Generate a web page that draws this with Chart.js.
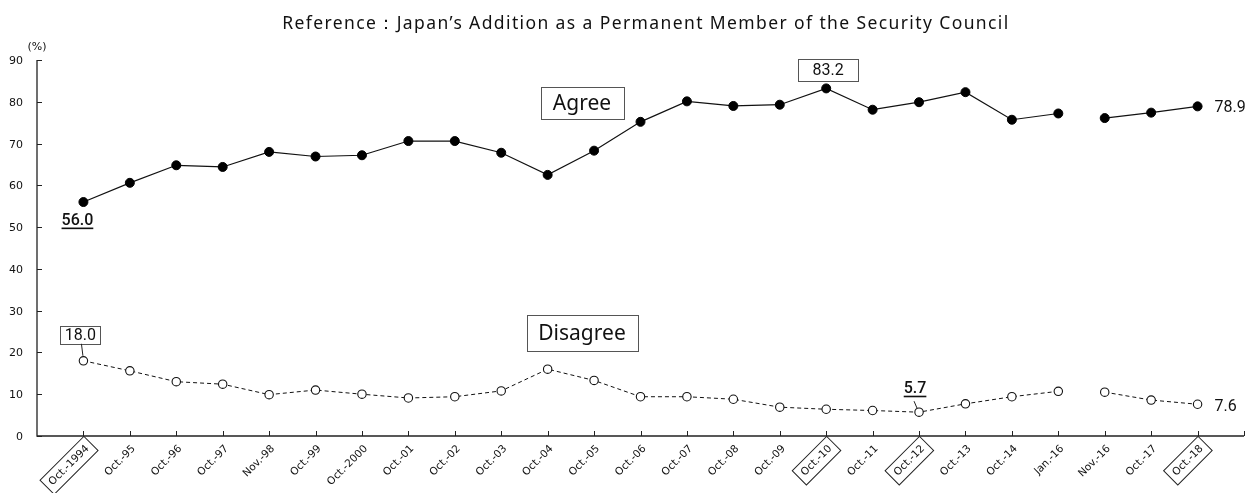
<!DOCTYPE html>
<html>
<head>
<meta charset="utf-8">
<script src="https://cdn.jsdelivr.net/npm/chart.js"></script>
<style>
  html, body { margin: 0; padding: 0; background: #fff; }
  #wrap { width: 1255px; height: 493px; }
</style>
</head>
<body>
<div id="wrap"><canvas id="chart" width="1255" height="493"></canvas></div>
<script>
// survey periods
const periods = ['Oct.-1994', 'Oct.-95', 'Oct.-96', 'Oct.-97', 'Nov.-98', 'Oct.-99', 'Oct.-2000',
  'Oct.-01', 'Oct.-02', 'Oct.-03', 'Oct.-04', 'Oct.-05', 'Oct.-06', 'Oct.-07', 'Oct.-08',
  'Oct.-09', 'Oct.-10', 'Oct.-11', 'Oct.-12', 'Oct.-13', 'Oct.-14', 'Jan.-16', 'Nov.-16',
  'Oct.-17', 'Oct.-18'];
const agree = [56.0, 60.6, 64.8, 64.4, 68.0, 66.9, 67.2, 70.6, 70.6, 67.8, 62.5, 68.3, 75.2,
  80.1, 79.0, 79.3, 83.2, 78.1, 79.9, 82.3, 75.7, 77.2, 76.1, 77.4, 78.9];
const disagree = [18.0, 15.6, 13.0, 12.4, 9.9, 11.0, 10.0, 9.1, 9.4, 10.8, 16.0, 13.3, 9.4,
  9.4, 8.8, 6.9, 6.4, 6.1, 5.7, 7.7, 9.4, 10.7, 10.5, 8.6, 7.6];
const yTicks = [0, 10, 20, 30, 40, 50, 60, 70, 80, 90];
const boxedPeriods = ['Oct.-1994', 'Oct.-10', 'Oct.-12', 'Oct.-18'];

// one empty slot on each side, like the original axis
const labels = [''].concat(periods, ['']);
const pad = arr => [null].concat(arr, [null]);
const breakAt = periods.indexOf('Jan.-16') + 1; // no line between Jan-16 and Nov-16

const FONT = '"Noto Sans", "Open Sans", sans-serif';
const TICKFONT = '"DejaVu Sans", Verdana, sans-serif';
const NUMFONT = 'Roboto, "Liberation Sans", Arial, sans-serif';

function boxText(ctx, text, cx, cy, w, h) {
  ctx.fillStyle = '#fff';
  ctx.fillRect(cx - w / 2, cy - h / 2, w, h);
  ctx.strokeStyle = '#555';
  ctx.lineWidth = 1;
  ctx.strokeRect(Math.round(cx - w / 2) + 0.5, Math.round(cy - h / 2) + 0.5, w, h);
  ctx.fillStyle = '#111';
  ctx.textAlign = 'center';
  ctx.textBaseline = 'middle';
  ctx.fillText(text, cx, cy + 1);
}

function underlineText(ctx, text, cx, cy) {
  ctx.fillStyle = '#111';
  ctx.textAlign = 'center';
  ctx.textBaseline = 'middle';
  ctx.fillText(text, cx, cy);
  const w = ctx.measureText(text).width;
  ctx.fillRect(cx - w / 2, cy + 6.5, w, 1.6);
}

const decorations = {
  id: 'decorations',
  afterDraw(chart) {
    const ctx = chart.ctx;
    const x = chart.scales.x, y = chart.scales.y;
    const area = chart.chartArea;
    ctx.save();

    // title, spread a little to the width of the original heading
    const title = 'Reference\uFF1AJapan\u2019s Addition as a Permanent Member of the Security Council';
    ctx.fillStyle = '#111';
    ctx.font = '17.5px ' + FONT;
    ctx.textAlign = 'center';
    ctx.textBaseline = 'alphabetic';
    const tw = ctx.measureText(title).width;
    if ('letterSpacing' in ctx && tw < 727) ctx.letterSpacing = ((727 - tw) / title.length).toFixed(2) + 'px';
    ctx.fillText(title, 646, 29);
    if ('letterSpacing' in ctx) ctx.letterSpacing = '0px';

    // axes
    ctx.strokeStyle = '#222';
    ctx.lineWidth = 1.3;
    ctx.beginPath();
    ctx.moveTo(area.left, area.top);
    ctx.lineTo(area.left, area.bottom);
    ctx.lineTo(area.right, area.bottom);
    ctx.stroke();

    // y ticks (inside) and labels
    ctx.lineWidth = 1;
    ctx.font = '11px ' + TICKFONT;
    ctx.textAlign = 'right';
    ctx.textBaseline = 'middle';
    yTicks.forEach(v => {
      const py = Math.round(y.getPixelForValue(v)) + 0.5;
      ctx.beginPath();
      ctx.moveTo(area.left, py);
      ctx.lineTo(area.left + 5, py);
      ctx.stroke();
      ctx.fillText(String(v), area.left - 14, py + 1);
    });
    ctx.font = '11px ' + TICKFONT;
    ctx.textAlign = 'center';
    ctx.fillText('(%)', area.left, area.top - 13);

    // x ticks (inside) and rotated labels
    for (let i = 1; i < labels.length; i++) {
      const px = Math.round(x.getPixelForValue(i)) + 0.5;
      ctx.beginPath();
      ctx.moveTo(px, area.bottom);
      ctx.lineTo(px, area.bottom - 5);
      ctx.stroke();
    }
    ctx.font = '10.5px ' + TICKFONT;
    periods.forEach((p, i) => {
      const px = x.getPixelForValue(i + 1);
      ctx.save();
      ctx.translate(px + 4, area.bottom + 11);
      ctx.rotate(-Math.PI / 4);
      ctx.textAlign = 'right';
      ctx.textBaseline = 'middle';
      ctx.fillStyle = '#111';
      ctx.fillText(p, 0, 0);
      if (boxedPeriods.includes(p)) {
        const w = ctx.measureText(p).width;
        ctx.strokeStyle = '#222';
        ctx.strokeRect(-w - 5, -10, w + 10, 20);
      }
      ctx.restore();
    });

    // series labels
    ctx.font = '21px ' + FONT;
    boxText(ctx, 'Agree', 582, 103, 83, 32);
    boxText(ctx, 'Disagree', 582, 333, 111, 36);

    // value call-outs
    const first = 1, last = periods.length, peak = periods.indexOf('Oct.-10') + 1;
    const low = periods.indexOf('Oct.-12') + 1;
    ctx.font = '500 16px ' + NUMFONT;
    underlineText(ctx, agree[0].toFixed(1), x.getPixelForValue(first) - 6, y.getPixelForValue(agree[0]) + 19);
    underlineText(ctx, disagree[low - 1].toFixed(1), x.getPixelForValue(low) - 4, y.getPixelForValue(disagree[low - 1]) - 23);
    ctx.font = '16px ' + NUMFONT;
    boxText(ctx, disagree[0].toFixed(1), x.getPixelForValue(first) - 3, y.getPixelForValue(disagree[0]) - 26, 40, 18);
    boxText(ctx, agree[peak - 1].toFixed(1), x.getPixelForValue(peak) + 2, y.getPixelForValue(agree[peak - 1]) - 18, 60, 22);

    // leader lines
    ctx.strokeStyle = '#222';
    ctx.lineWidth = 1;
    let px = x.getPixelForValue(first), py = y.getPixelForValue(disagree[0]);
    ctx.beginPath();
    ctx.moveTo(px - 2, py - 17);
    ctx.lineTo(px - 0.5, py - 5);
    ctx.stroke();
    px = x.getPixelForValue(low); py = y.getPixelForValue(disagree[low - 1]);
    ctx.beginPath();
    ctx.moveTo(px - 5, py - 11);
    ctx.lineTo(px - 2, py - 4);
    ctx.stroke();

    ctx.font = '16px ' + NUMFONT;
    ctx.fillStyle = '#111';
    ctx.textAlign = 'left';
    ctx.textBaseline = 'middle';
    ctx.fillText(agree[last - 1].toFixed(1), x.getPixelForValue(last) + 17, y.getPixelForValue(agree[last - 1]) + 1.5);
    ctx.fillText(disagree[last - 1].toFixed(1), x.getPixelForValue(last) + 17, y.getPixelForValue(disagree[last - 1]) + 2.5);

    ctx.restore();
  }
};

const skipBreak = c => (c.p0DataIndex === breakAt ? 'rgba(0,0,0,0)' : undefined);

new Chart(document.getElementById('chart'), {
  type: 'line',
  data: {
    labels: labels,
    datasets: [{
      label: 'Agree',
      data: pad(agree),
      borderColor: '#111',
      borderWidth: 1.2,
      pointRadius: 4.5,
      pointBackgroundColor: '#000',
      pointBorderColor: '#000',
      pointBorderWidth: 1,
      segment: { borderColor: skipBreak },
      clip: false
    }, {
      label: 'Disagree',
      data: pad(disagree),
      borderColor: '#111',
      borderWidth: 1,
      borderDash: [4, 3],
      pointRadius: 4.2,
      pointBackgroundColor: '#fff',
      pointBorderColor: '#111',
      pointBorderWidth: 1.1,
      segment: { borderColor: skipBreak },
      clip: false
    }]
  },
  options: {
    responsive: false,
    animation: false,
    layout: { padding: { top: 60, right: 11, left: 0, bottom: 0 } },
    plugins: { legend: { display: false }, tooltip: { enabled: false }, title: { display: false } },
    scales: {
      x: {
        type: 'category',
        offset: false,
        grid: { display: false },
        border: { display: false },
        ticks: { display: false, autoSkip: false },
        afterFit: s => { s.height = 57; }
      },
      y: {
        min: 0,
        max: 90,
        ticks: { display: false, stepSize: 10 },
        grid: { display: false },
        border: { display: false },
        afterFit: s => { s.width = 37; }
      }
    }
  },
  plugins: [decorations]
});
</script>
</body>
</html>
